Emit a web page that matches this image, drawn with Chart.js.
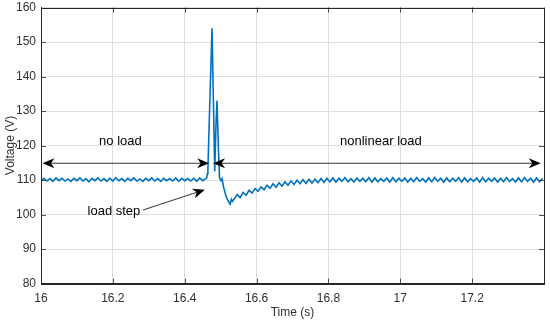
<!DOCTYPE html>
<html>
<head>
<meta charset="utf-8">
<script src="https://cdn.jsdelivr.net/npm/chart.js@4"></script>
<style>
  html, body { margin: 0; padding: 0; background: #fff; }
  #wrap { width: 550px; height: 323px; }
</style>
</head>
<body>
<div id="wrap"><canvas id="voltageChart"></canvas></div>
<script>
// sample rate of the steady parts (two samples per ripple cycle)
const sampleStep = 1 / 120;

// no load, starts at 16.0 s
const noLoadStart = 16.0;
const noLoadV = [
    109.8,110.5,109.7,110.4,109.6,110.6,109.8,110.5,109.7,110.3,
    109.6,110.5,109.8,110.6,109.7,110.4,109.5,110.5,109.8,110.6,
    109.7,110.4,109.6,110.5,109.7,110.7,109.8,110.4,109.6,110.5,
    109.8,110.6,109.7,110.3,109.6,110.5,109.8,110.6,109.7,110.4,
    109.6,110.5,109.8,110.4,109.7,110.6,109.6,110.5,109.8,110.4,
    109.7,110.5,109.6,110.6,109.8,110.4
];

// load step transient
const stepT = [16.4610,16.4630,16.4645,16.4700,16.4760,16.4800,16.4835,16.4870,16.4898,16.4935,
               16.4970,16.5010,16.5040,16.5080,16.5130,16.5180,16.5230,16.5265,16.5300,16.5330];
const stepV = [110.6,111.8,113.0,133.0,154.0,132.0,112.5,126.0,133.0,120.0,
               110.5,109.8,110.4,108.0,106.0,104.5,103.6,103.0,104.4,103.8];

// nonlinear load, recovery and steady state
const loadStart = 16.5375;
const loadV = [
    104.4,105.8,104.9,106.4,105.6,107.0,106.2,107.5,106.7,108.0,
    107.2,108.5,107.6,108.9,107.9,109.2,108.2,109.5,108.5,109.7,
    108.7,109.9,108.9,110.1,109.0,110.2,109.1,110.3,109.2,110.4,
    109.3,110.5,
    109.5,110.6,109.4,110.5,109.6,110.7,109.5,110.4,109.4,110.6,
    109.6,110.5,109.5,110.7,109.4,110.6,109.5,110.4,109.6,110.6,
    109.4,110.7,109.5,110.5,109.6,110.6,109.4,110.5,109.5,110.7,
    109.6,110.4,109.4,110.6,109.5,110.7,109.6,110.5,109.4,110.6,
    109.5,110.5,109.6,110.7,109.4,110.6,109.5,110.4,109.6,110.6,
    109.4,110.7,109.5,110.5,109.6,110.6,109.4,110.5,109.5,110.7,
    109.6,110.4,109.4,110.6,109.5,110.7,109.6,110.5,109.4,110.6,
    109.5,110.5
];

const xMin = 16.0, xMax = 17.4, xStep = 0.2;
const yMin = 80, yMax = 160, yStep = 10;

const points = [];
noLoadV.forEach((v, i) => points.push({ x: noLoadStart + i * sampleStep, y: v }));
stepT.forEach((t, i) => points.push({ x: t, y: stepV[i] }));
loadV.forEach((v, i) => points.push({ x: loadStart + i * sampleStep, y: v }));

const FONT = "'Liberation Sans', Arial, Helvetica, sans-serif";
const TXT = '#303030';

function arrowHead(ctx, x, y, dx, dy) {
    const len = 12, half = 5, back = 8.5;
    const ang = Math.atan2(dy, dx);
    ctx.save();
    ctx.translate(x, y);
    ctx.rotate(ang);
    ctx.beginPath();
    ctx.moveTo(0, 0);
    ctx.lineTo(-len, -half);
    ctx.lineTo(-back, 0);
    ctx.lineTo(-len, half);
    ctx.closePath();
    ctx.fill();
    ctx.restore();
}

const annotations = {
    id: 'annotations',
    afterDatasetsDraw(chart) {
        const { ctx, scales: { x, y }, chartArea } = chart;
        ctx.save();
        ctx.fillStyle = '#000';
        ctx.lineWidth = 0.8;

        // inward ticks
        ctx.strokeStyle = '#262626';
        for (let v = yMin; v <= yMax; v += yStep) {
            const py = Math.round(y.getPixelForValue(v)) + 0.5;
            ctx.beginPath(); ctx.moveTo(chartArea.left, py); ctx.lineTo(chartArea.left + 5, py); ctx.stroke();
            ctx.beginPath(); ctx.moveTo(chartArea.right, py); ctx.lineTo(chartArea.right - 5, py); ctx.stroke();
        }
        for (let v = xMin; v <= xMax + 1e-9; v += xStep) {
            const px = Math.round(x.getPixelForValue(v)) + 0.5;
            ctx.beginPath(); ctx.moveTo(px, chartArea.bottom); ctx.lineTo(px, chartArea.bottom - 5); ctx.stroke();
            ctx.beginPath(); ctx.moveTo(px, chartArea.top); ctx.lineTo(px, chartArea.top + 5); ctx.stroke();
        }

        ctx.strokeStyle = '#000';
        const ay = y.getPixelForValue(114.85);
        // no load double arrow
        let x1 = x.getPixelForValue(16.004), x2 = x.getPixelForValue(16.468);
        ctx.beginPath(); ctx.moveTo(x1 + 8, ay); ctx.lineTo(x2 - 8, ay); ctx.stroke();
        arrowHead(ctx, x1, ay, -1, 0);
        arrowHead(ctx, x2, ay, 1, 0);
        // nonlinear load double arrow
        x1 = x.getPixelForValue(16.479); x2 = x.getPixelForValue(17.391);
        ctx.beginPath(); ctx.moveTo(x1 + 8, ay); ctx.lineTo(x2 - 8, ay); ctx.stroke();
        arrowHead(ctx, x1, ay, -1, 0);
        arrowHead(ctx, x2, ay, 1, 0);
        // load step arrow
        const sx = x.getPixelForValue(16.284), sy = y.getPixelForValue(101.3);
        const ex = x.getPixelForValue(16.456), ey = y.getPixelForValue(107.2);
        ctx.beginPath(); ctx.moveTo(sx, sy); ctx.lineTo(ex - (ex - sx) * 0.12, ey - (ey - sy) * 0.12); ctx.stroke();
        arrowHead(ctx, ex, ey, ex - sx, ey - sy);

        ctx.font = '13px ' + FONT;
        ctx.textAlign = 'center';
        ctx.textBaseline = 'middle';
        ctx.fillStyle = '#000';
        ctx.fillText('no load', x.getPixelForValue(16.221), y.getPixelForValue(121.3));
        ctx.fillText('nonlinear load', x.getPixelForValue(16.946), y.getPixelForValue(121.3));
        ctx.fillText('load step', x.getPixelForValue(16.203), y.getPixelForValue(101.0));
        ctx.restore();
    }
};

new Chart(document.getElementById('voltageChart'), {
    type: 'line',
    data: {
        datasets: [{
            data: points,
            borderColor: '#0072BD',
            borderWidth: 1.6,
            pointRadius: 0,
            tension: 0,
            fill: false
        }]
    },
    options: {
        responsive: true,
        maintainAspectRatio: false,
        animation: false,
        events: [],
        layout: { padding: { top: 7.5, right: 6, left: 0, bottom: 0 } },
        plugins: { legend: { display: false }, tooltip: { enabled: false } },
        scales: {
            x: {
                type: 'linear',
                min: xMin, max: xMax,
                afterFit: s => { s.height = 39.5; s.paddingLeft = 0; s.paddingRight = 0; },
                grid: { color: '#dfdfdf', drawTicks: false },
                border: { display: true, color: '#262626', width: 1 },
                ticks: {
                    stepSize: xStep, padding: 8, color: TXT, maxRotation: 0,
                    font: { family: FONT, size: 12 },
                    callback: v => (Math.abs(v - xMax) < 1e-6 ? '' : String(Number(v.toFixed(1))))
                },
                title: { display: true, text: 'Time (s)', color: TXT, font: { family: FONT, size: 12 }, padding: { top: 0, bottom: 3 } }
            },
            y: {
                min: yMin, max: yMax,
                afterFit: s => { s.width = 41; s.paddingTop = 0; s.paddingBottom = 0; },
                grid: { color: '#dfdfdf', drawTicks: false },
                border: { display: true, color: '#262626', width: 1 },
                ticks: { stepSize: yStep, padding: 5, color: TXT, font: { family: FONT, size: 12 } },
                title: { display: true, text: 'Voltage (V)', color: TXT, font: { family: FONT, size: 12 }, padding: { top: 3, bottom: 0 } }
            }
        }
    },
    plugins: [annotations, {
        id: 'frame',
        afterDraw(chart) {
            const { ctx, chartArea: a } = chart;
            ctx.save();
            ctx.strokeStyle = '#262626';
            ctx.lineWidth = 1;
            ctx.strokeRect(Math.round(a.left) + 0.5, Math.round(a.top) + 0.5, Math.round(a.right - a.left), Math.round(a.bottom - a.top));
            ctx.restore();
        }
    }]
});
</script>
</body>
</html>
